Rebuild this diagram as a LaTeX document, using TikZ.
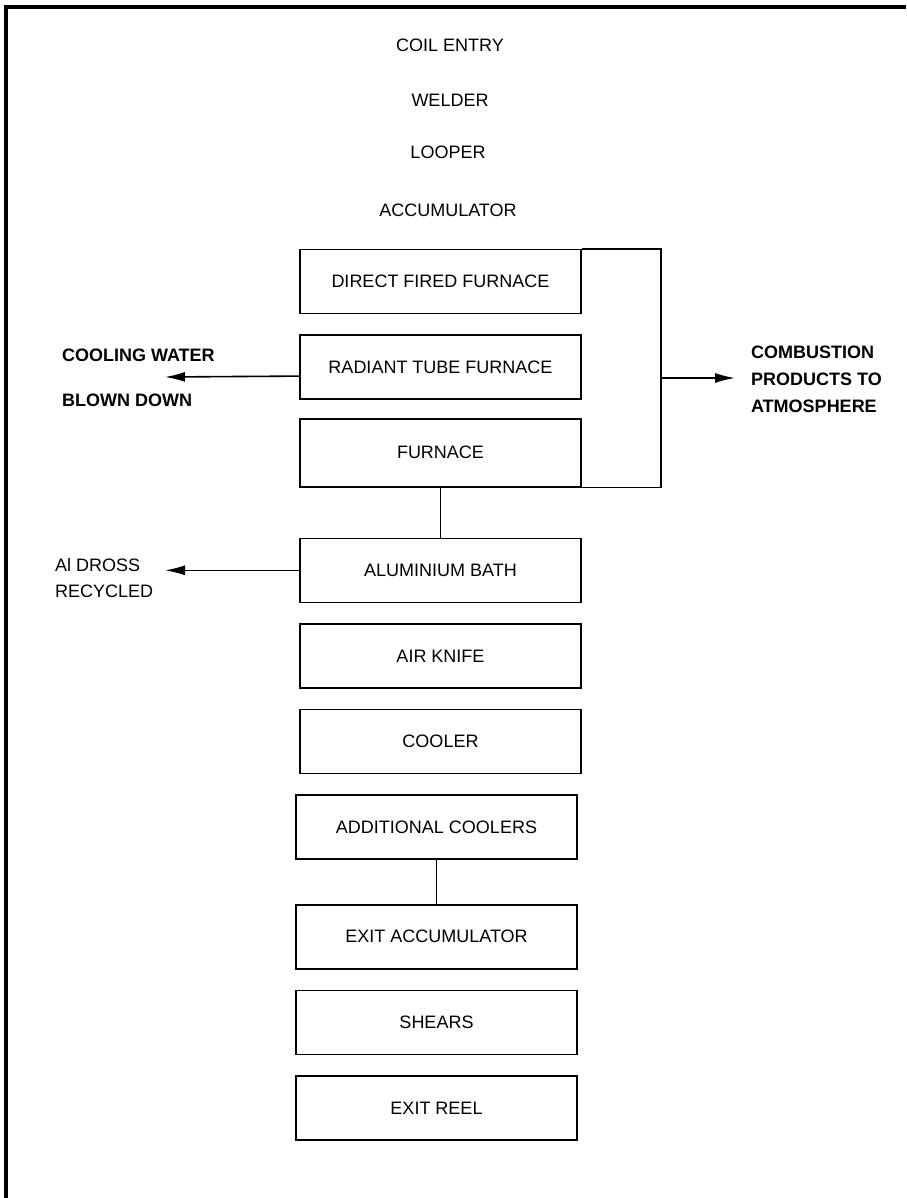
\documentclass[tikz,border=0pt]{standalone}
\usepackage{fontspec}
\setmainfont{Liberation Sans}
\usepackage{tikz}
\usetikzlibrary{calc, arrows.meta, positioning}

\begin{document}
\begin{tikzpicture}[x=0.5pt, y=-0.5pt, >={Latex[length=10pt, width=5pt]},
		unit/.style={draw, rectangle, line width=0.8pt, minimum width=140.5pt, minimum height=32pt, font=\fontsize{9}{10}\selectfont, node distance={10pt}},
		stage/.style={font=\fontsize{9}{10}\selectfont},
		outlet/.style={font=\fontsize{9}{13.5}\selectfont\bfseries, align=left, anchor=west},
		flow/.style={line width=0.8pt, black}
		]
		\useasboundingbox (0,0) rectangle (906,1198);
		\draw[line width=1.6pt] (6,1198) -- (6,7) -- (906,7);
		
		\node [stage](coil) at (450,45) {COIL ENTRY};
		\node [stage](weld) at (450,100) {WELDER};
		\node [stage](loop) at (448,152) {LOOPER};
		\node [stage](accu) at (448,210) {ACCUMULATOR};
		
		\node [unit](dff) at (440.5,281.5) {DIRECT FIRED FURNACE};
		\node [unit](rtf) [below=of dff] {RADIANT TUBE FURNACE};
		\node [unit, minimum height=34pt](furn) [below=9pt of rtf] {FURNACE};
		\node [unit](bath) [below=25pt of furn] {ALUMINIUM BATH};
		\node [unit](knife) [below=of bath] {AIR KNIFE};
		\node [unit](cool) [below=of knife] {COOLER};
		\node [unit](addc) [below=of cool, xshift=-2pt] {ADDITIONAL COOLERS};
		\node [unit](exacc) [below=22pt of addc] {EXIT ACCUMULATOR};
		\node [unit](shear) [below=of exacc] {SHEARS};
		\node [unit](reel) [below=of shear] {EXIT REEL};
		
		\node [outlet](cw) at (55,355) {COOLING WATER};
		\node [outlet](bd) at (55,400) {BLOWN DOWN};
		\node [outlet, font=\fontsize{9}{13}\selectfont](dross) at (48,578) {Al DROSS\\RECYCLED};
		\node [outlet](comb) at (744,379) {COMBUSTION\\PRODUCTS TO\\ATMOSPHERE};
		
		\coordinate (stack) at (661,378);
		\coordinate (stacktop) at (stack |- dff.north);
		\coordinate (stackbot) at (stack |- furn.south);
		\coordinate (cwend) at (165,377);
		\coordinate (drossend) at (cwend |- bath.west);
		\coordinate (combend) at (735,378);
		
		\draw[flow] (dff.north east) -- (stacktop) -- (stackbot) -- (furn.south east);
		\draw[flow, ->] (stack) -- (combend);
		\draw[flow, ->] ([yshift=-4.5pt]rtf.west) -- (cwend);
		\draw[flow, ->] (bath.west) -- (drossend);
		\draw[flow] (furn) -- (bath);
		\draw[flow] (addc) -- (exacc);
		
	\end{tikzpicture}
\end{document}
